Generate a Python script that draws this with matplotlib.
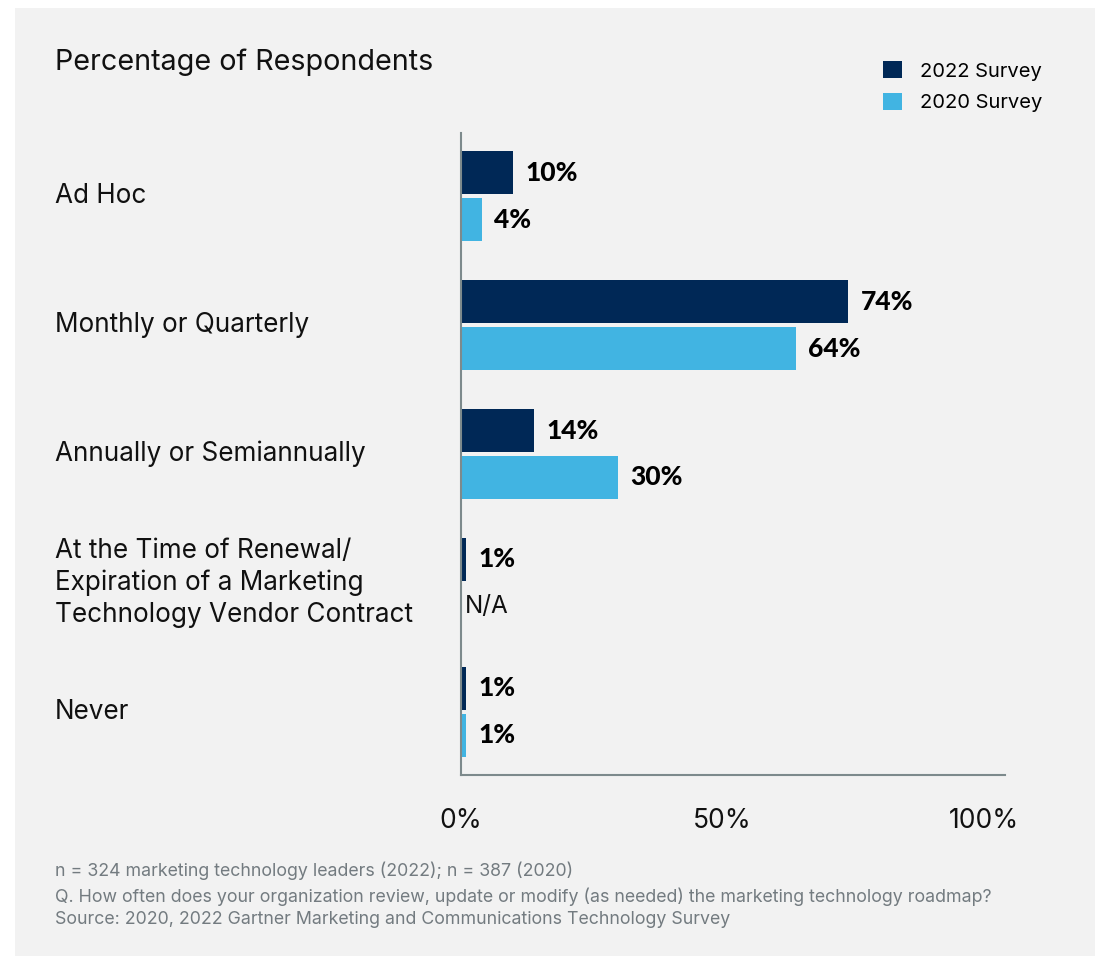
import matplotlib
matplotlib.use("Agg")
import matplotlib.pyplot as plt
from matplotlib.patches import Patch, Rectangle
import numpy as np

categories = ["Ad Hoc", "Monthly or Quarterly", "Annually or Semiannually",
              "At the Time of Renewal/\nExpiration of a Marketing\nTechnology Vendor Contract",
              "Never"]
survey_2022 = [10, 74, 14, 1, 1]
survey_2020 = [4, 64, 30, None, 1]
series_names = ["2022 Survey", "2020 Survey"]
x_ticks = [0, 50, 100]
x_tick_labels = ["0%", "50%", "100%"]
footnote = ("n = 324 marketing technology leaders (2022); n = 387 (2020)\n"
            "Q. How often does your organization review, update or modify (as needed) "
            "the marketing technology roadmap?\n"
            "Source: 2020, 2022 Gartner Marketing and Communications Technology Survey")

DARK = "#002856"
LIGHT = "#41b4e2"
PANEL = "#f2f2f2"
AXIS = "#7d8a8c"
FONT = ["Inter", "DejaVu Sans"]
BOLD = ["Lato", "DejaVu Sans"]

plt.rcParams["font.family"] = FONT

fig = plt.figure(figsize=(10.99, 9.56), dpi=100, facecolor="white")
fig.patches.append(Rectangle((15 / 1099, 0), 1080 / 1099, 948 / 956,
                             transform=fig.transFigure, facecolor=PANEL,
                             edgecolor="none", zorder=-10))

ax = fig.add_axes([461 / 1099, 1 - 775 / 956, 544 / 1099, 642 / 956])
ax.set_facecolor("none")

y = np.arange(len(categories))
h = 0.334
off = 0.182
v22 = [v if v is not None else 0 for v in survey_2022]
v20 = [v if v is not None else 0 for v in survey_2020]
ax.barh(y - off, v22, height=h, color=DARK)
ax.barh(y + off, v20, height=h, color=LIGHT)


def value_label(v, yi):
    ax.annotate(f"{v}%", (v, yi), xytext=(9, 0), textcoords="offset points",
                va="center", ha="left", fontsize=19, fontweight="black",
                family=BOLD, color="black")


for yi, v in zip(y - off, survey_2022):
    value_label(v, yi)
for yi, v in zip(y + off, survey_2020):
    if v is None:
        ax.annotate("N/A", (0, yi), xytext=(3, 0), textcoords="offset points",
                    va="center", ha="left", fontsize=17.5, color="#111111")
    else:
        value_label(v, yi)

ax.set_xlim(0, 104)
ax.set_ylim(len(categories) - 0.51, -0.49)
ax.set_yticks([])
ax.set_xticks(x_ticks)
ax.set_xticklabels(x_tick_labels, fontsize=19, color="#111111")
ax.tick_params(axis="x", length=0, pad=24)
for s in ["top", "right"]:
    ax.spines[s].set_visible(False)
for s in ["left", "bottom"]:
    ax.spines[s].set_color(AXIS)
    ax.spines[s].set_linewidth(1.5)

for yi, cat in zip(y, categories):
    ax.text(-(461 - 55) / 544 * 104, yi, cat, ha="left", va="center",
            fontsize=18.8, color="#111111", linespacing=1.3)

fig.text(55 / 1099, 1 - 62 / 956, "Percentage of Respondents", ha="left",
         va="center", fontsize=20.7, color="#111111")

handles = [Patch(facecolor=DARK), Patch(facecolor=LIGHT)]
fig.legend(handles, series_names, loc="upper left",
           bbox_to_anchor=(865 / 1099, 1 - 43 / 956), frameon=False,
           fontsize=14.5, handlelength=0.95, handleheight=0.95,
           handletextpad=0.9, labelspacing=0.6)

fig.text(55 / 1099, 1 - 862 / 956, footnote, ha="left", va="top",
         fontsize=12.8, color="#737b80", linespacing=1.45)

fig.savefig("out.png", dpi=100, facecolor="white")
